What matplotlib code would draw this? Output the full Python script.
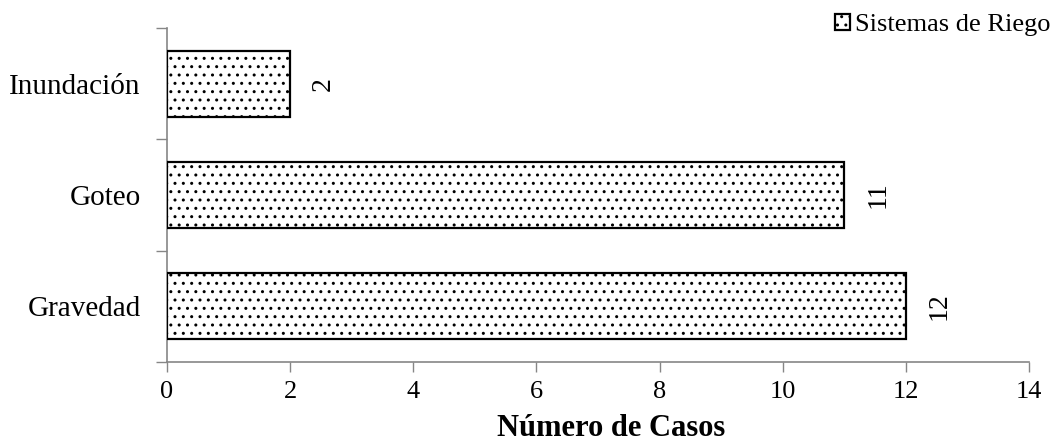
import matplotlib
matplotlib.use("Agg")
import matplotlib.pyplot as plt
import numpy as np

categories = ["Gravedad", "Goteo", "Inundación"]
values = [12, 11, 2]
series_name = "Sistemas de Riego"
xlabel = "Número de Casos"
xticks = [0, 2, 4, 6, 8, 10, 12, 14]

plt.rcParams['font.family'] = ['Liberation Serif', 'DejaVu Serif']
plt.rcParams['hatch.linewidth'] = 1.0
plt.rcParams['hatch.color'] = 'black'

W, H = 1056, 443
fig = plt.figure(figsize=(W / 100, H / 100), dpi=100)
ax = fig.add_axes([167 / W, 1 - 362 / H, (1029 - 167) / W, (362 - 28) / H])

grey = '#868686'
y = np.arange(len(categories))
bars = ax.barh(y, values, height=0.59, color='white', edgecolor='black',
               linewidth=1.6, hatch='..', label=series_name, zorder=3)

ax.set_xlim(0, 14)
ax.set_ylim(-0.5, len(categories) - 0.5)
ax.set_xticks(xticks)
ax.set_xticklabels([str(t) for t in xticks], fontsize=19)
ax.tick_params(axis='x', direction='out', length=7, width=1, color=grey, pad=7)

# y: ticks at category boundaries, labels at category centers
ax.set_yticks(np.arange(-0.5, len(categories), 1.0))
ax.set_yticklabels([])
ax.tick_params(axis='y', which='major', direction='out', length=8, width=1, color=grey)
ax.set_yticks(y, minor=True)
ax.set_yticklabels(categories, minor=True, fontsize=21)
ax.tick_params(axis='y', which='minor', length=0, pad=19)

for s in ['top', 'right']:
    ax.spines[s].set_visible(False)
for s in ['left', 'bottom']:
    ax.spines[s].set_color(grey)
    ax.spines[s].set_linewidth(1.2)

for yi, v in zip(y, values):
    ax.annotate(str(v), xy=(v, yi), xytext=(15, 0), textcoords='offset points',
                rotation=90, ha='left', va='center', fontsize=20)

ax.set_xlabel(xlabel, fontsize=22, fontweight='bold', labelpad=8)
ax.xaxis.set_label_coords((611 - 167) / (1029 - 167), -0.155)
ax.xaxis.label.set_va('top')

fig.legend(handles=[bars], labels=[series_name], loc='center right',
           bbox_to_anchor=(1.0, 1 - 25 / H), frameon=False, fontsize=19,
           handlelength=0.55, handleheight=0.55, handletextpad=0.2,
           borderpad=0, borderaxespad=0.2)

fig.savefig("out.png", dpi=100)
